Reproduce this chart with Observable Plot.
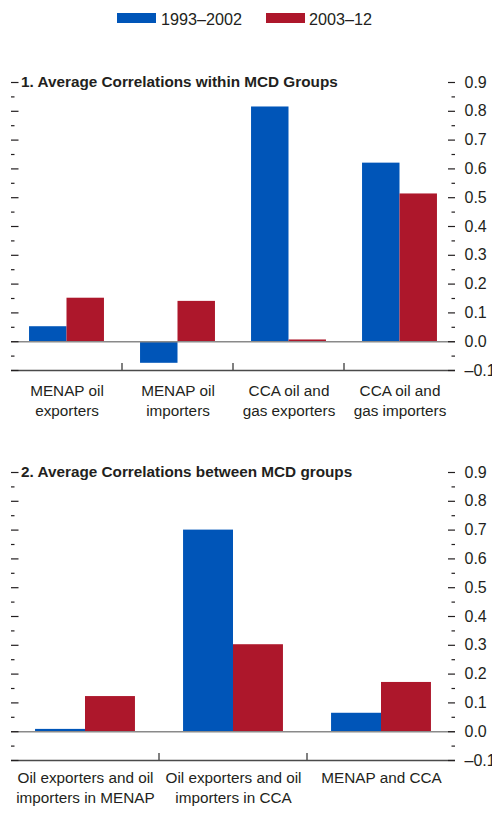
<!DOCTYPE html>
<html><head><meta charset="utf-8">
<script src="https://cdn.jsdelivr.net/npm/d3@7"></script>
<script src="https://cdn.jsdelivr.net/npm/@observablehq/plot@0.6"></script>
<style>
body{margin:0;width:492px;height:813px;position:relative;overflow:hidden;background:#fff;font-family:"Liberation Sans",Arial,sans-serif;color:#231f20}
.sw{position:absolute;top:13px;width:39px;height:10px}
.lt{position:absolute;top:9px;font-size:16.2px;line-height:20px;white-space:nowrap}
.panel{position:absolute;left:0}
</style></head><body>
<div id="legend"></div>
<div id="p1" class="panel" style="top:50px"></div>
<div id="p2" class="panel" style="top:440px"></div>
<script>
const series = ["1993–2002", "2003–12"];
const colors = ["#0055b8", "#ad172b"];

const cats1 = ["MENAP oil\nexporters", "MENAP oil\nimporters", "CCA oil and\ngas exporters", "CCA oil and\ngas importers"];
const vals1a = [0.052, -0.075, 0.815, 0.62];
const vals1b = [0.151, 0.14, 0.006, 0.513];
const title1 = "1. Average Correlations within MCD Groups";

const cats2 = ["Oil exporters and oil\nimporters in MENAP", "Oil exporters and oil\nimporters in CCA", "MENAP and CCA"];
const vals2a = [0.008, 0.70, 0.064];
const vals2b = [0.122, 0.302, 0.171];
const title2 = "2. Average Correlations between MCD groups";

const yDomain = [-0.1, 0.9];
const majorTicks = [-0.1, 0, 0.1, 0.2, 0.3, 0.4, 0.5, 0.6, 0.7, 0.8, 0.9];
const minorTicks = [-0.05, 0.05, 0.15, 0.25, 0.35, 0.45, 0.55, 0.65, 0.75, 0.85];

// legend
const legend = document.getElementById("legend");
const swX = [117, 266], txX = [161, 309];
series.forEach((s, i) => {
  const sw = document.createElement("div");
  sw.className = "sw"; sw.style.left = swX[i] + "px"; sw.style.background = colors[i];
  const t = document.createElement("span");
  t.className = "lt"; t.style.left = txX[i] + "px"; t.textContent = s;
  legend.append(sw, t);
});

const FONT = '"Liberation Sans",Arial,sans-serif';
const fmt = d => d < 0 ? "–" + Math.abs(d).toFixed(1) : d.toFixed(1);

function panel(cats, a, b, title, labelDy) {
  const W = 492, H = 372, ml = 11, mr = 37, mt = 32, mb = 52;
  const fw = W - ml - mr, fh = H - mt - mb;
  const bw = fw / cats.length, g = 0.675;
  const outer = bw * (1 - g) / 2, half = bw / 2;
  const rows = cats.map((c, i) => ({cat: c, a: a[i], b: b[i]}));
  return Plot.plot({
    width: W, height: H, marginLeft: ml, marginRight: mr, marginTop: mt, marginBottom: mb,
    style: {fontFamily: FONT, fontSize: "15px", color: "#231f20", background: "white", overflow: "visible"},
    x: {domain: cats, padding: 0, axis: null},
    y: {domain: yDomain, axis: null},
    marks: [
      Plot.barY(rows, {x: "cat", y: "a", fill: colors[0], insetLeft: outer, insetRight: half}),
      Plot.barY(rows, {x: "cat", y: "b", fill: colors[1], insetLeft: half, insetRight: outer}),
      Plot.ruleY([0], {stroke: "#8a8a8a", strokeWidth: 1.5}),
      Plot.ruleY([yDomain[0]], {stroke: "#4a4a4a", strokeWidth: 1.5}),
      Plot.barY(cats.slice(1), {x: d => d, y1: yDomain[0], y2: yDomain[1], insetTop: fh - 7, insetRight: bw - 1.4, dx: -0.7, fill: "#4a4a4a"}),
      Plot.tickY(majorTicks, {y: d => d, insetRight: fw - 7.5, stroke: "#231f20", strokeWidth: 1.2}),
      Plot.tickY(minorTicks, {y: d => d, insetRight: fw - 3.5, stroke: "#231f20", strokeWidth: 1.2}),
      Plot.tickY(majorTicks, {y: d => d, insetLeft: fw - 7, stroke: "#231f20", strokeWidth: 1.2}),
      Plot.tickY(minorTicks, {y: d => d, insetLeft: fw - 3.5, stroke: "#231f20", strokeWidth: 1.2}),
      Plot.text(majorTicks, {y: d => d, frameAnchor: "right", dx: 9, textAnchor: "start", text: fmt, fontSize: 16, fill: "#231f20"}),
      Plot.text(rows, {x: "cat", y: () => yDomain[0], text: "cat", lineAnchor: "top", dy: labelDy, lineHeight: 1.3, fontSize: 15.3, fill: "#231f20"}),
      Plot.text([yDomain[1]], {y: d => d, frameAnchor: "left", dx: 9.5, textAnchor: "start", text: () => title, fontWeight: "bold", fontSize: 15.3, fill: "#231f20"})
    ]
  });
}

document.getElementById("p1").append(panel(cats1, vals1a, vals1b, title1, 11.5));
document.getElementById("p2").append(panel(cats2, vals2a, vals2b, title2, 8));
</script>
</body></html>
